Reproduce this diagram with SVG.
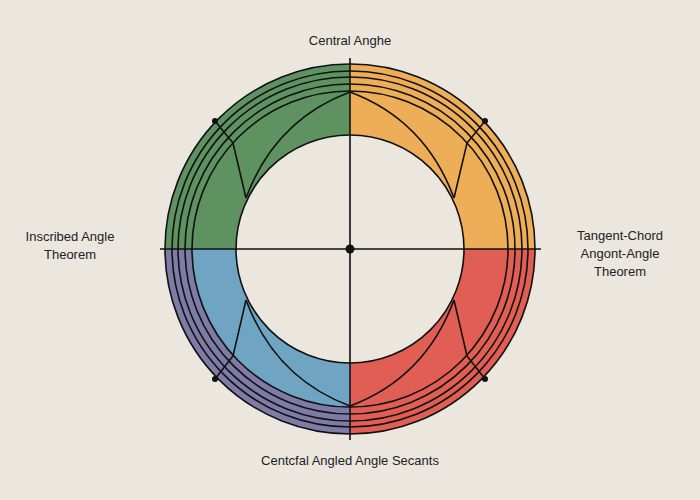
<svg xmlns="http://www.w3.org/2000/svg" width="700" height="500" viewBox="0 0 700 500">
<style>
.l{fill:none;stroke:#111;stroke-width:1.6}
.t{font-family:"Liberation Sans",Arial,sans-serif;font-size:13px;fill:#222;text-anchor:middle}
</style>
<rect width="700" height="500" fill="#ebe7df"/>
<g id="ring">
<path d="M350,249 L350,64 A185,185 0 0 0 165,249 Z" fill="#5f9261"/>
<path d="M350,249 L350,64 A185,185 0 0 1 535,249 Z" fill="#eeae58"/>
<path d="M350,249 L535,249 A185,185 0 0 1 350,434 Z" fill="#e05e53"/>
<path d="M350,249 L350,434 A185,185 0 0 1 165,249 Z" fill="#7e7ba6"/>
<path d="M350,249 L350,407 A158,158 0 0 1 192,249 Z" fill="#6fa4c2"/>
<circle cx="350" cy="249" r="114" fill="#ebe7df" stroke="#111" stroke-width="1.6"/>
<circle class="l" cx="350" cy="249" r="185"/>
<circle class="l" cx="350" cy="249" r="178"/>
<circle class="l" cx="350" cy="249" r="172"/>
<circle class="l" cx="350" cy="249" r="165"/>
<circle class="l" cx="350" cy="249" r="158"/>
</g>
<g id="connectors">
<line class="l" x1="350" y1="58" x2="350" y2="440"/>
<line class="l" x1="160" y1="249" x2="541" y2="249"/>
<path class="l" d="M350,92 Q275,120 246,198"/>
<path class="l" d="M350,92 Q425,120 454,198"/>
<path class="l" d="M350,406 Q275,378 246,300"/>
<path class="l" d="M350,406 Q425,378 454,300"/>
<polyline class="l" points="215,121 233,143 246,198"/>
<polyline class="l" points="485,121 467,143 454,198"/>
<polyline class="l" points="215,379 233,356 246,300"/>
<polyline class="l" points="485,379 467,356 454,300"/>
<g fill="#111"><circle cx="350" cy="249" r="4.5"/><circle cx="215" cy="121" r="3"/><circle cx="485" cy="121" r="3"/><circle cx="215" cy="379" r="3"/><circle cx="485" cy="379" r="3"/></g>
</g>
<g id="labels">
<text class="t" x="350" y="45">Central Anghe</text>
<text class="t" x="70" y="241">Inscribed Angle</text>
<text class="t" x="70" y="259">Theorem</text>
<text class="t" x="620" y="240">Tangent-Chord</text>
<text class="t" x="620" y="258">Angont-Angle</text>
<text class="t" x="620" y="276">Theorem</text>
<text class="t" x="350" y="465">Centcfal Angled Angle Secants</text>
</g>
</svg>
